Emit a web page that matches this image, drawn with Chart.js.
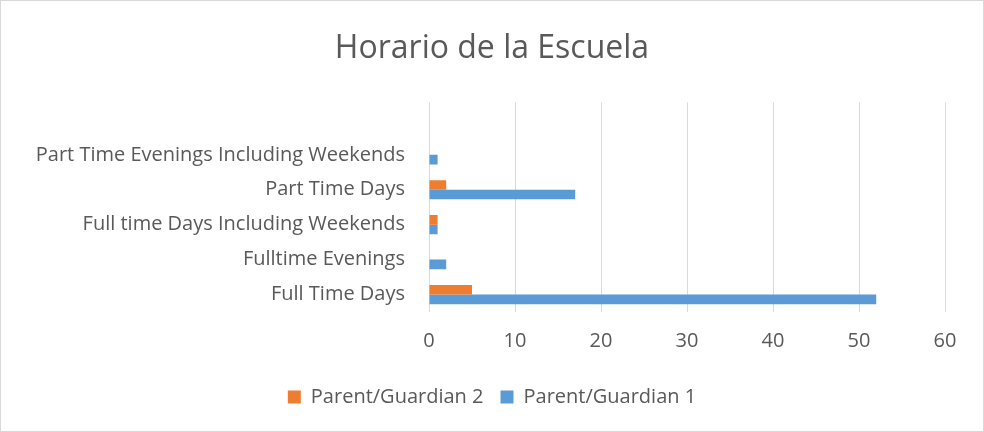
<!DOCTYPE html>
<html>
<head>
<meta charset="utf-8">
<script src="https://cdn.jsdelivr.net/npm/chart.js@4"></script>
<style>
  html, body { margin: 0; padding: 0; background: #fff; }
  #wrap { width: 984px; height: 432px; }
</style>
</head>
<body>
<div id="wrap"><canvas id="scheduleChart" width="984" height="432"></canvas></div>
<script>
// Categories listed top to bottom (first row is blank in the source sheet)
const categories = [
    '',
    'Part Time Evenings Including Weekends',
    'Part Time Days',
    'Full time Days Including Weekends',
    'Fulltime Evenings',
    'Full Time Days'
];
const guardian2 = [null, null, 2, 1, null, 5];
const guardian1 = [null, 1, 17, 1, 2, 52];
const xTicks = [0, 10, 20, 30, 40, 50, 60];

const textColor = '#595959';
const fontFamily = '"Open Sans", Lato, sans-serif';

// thin frame round the whole chart
const framePlugin = {
    id: 'frame',
    afterDraw(chart) {
        const c = chart.ctx;
        c.save();
        c.strokeStyle = '#d9d9d9';
        c.lineWidth = 1;
        c.strokeRect(0.5, 0.5, chart.width - 1, chart.height - 1);
        c.restore();
    }
};

const ctx = document.getElementById('scheduleChart').getContext('2d');
new Chart(ctx, {
    type: 'bar',
    data: {
        labels: categories,
        datasets: [{
            label: 'Parent/Guardian 2',
            data: guardian2,
            backgroundColor: '#ED7D31',
            categoryPercentage: 0.55,
            barPercentage: 1
        }, {
            label: 'Parent/Guardian 1',
            data: guardian1,
            backgroundColor: '#5B9BD5',
            categoryPercentage: 0.55,
            barPercentage: 1
        }]
    },
    options: {
        indexAxis: 'y',
        responsive: false,
        animation: false,
        layout: {
            padding: { left: 0, right: 0, top: 0, bottom: 15 }
        },
        scales: {
            x: {
                min: 0,
                max: 60,
                afterBuildTicks(scale) {
                    scale.ticks = xTicks.map(v => ({ value: v }));
                },
                grid: { color: '#d9d9d9', drawTicks: false },
                border: { display: false },
                ticks: {
                    color: textColor,
                    font: { family: fontFamily, size: 20 },
                    padding: 17
                }
            },
            y: {
                grid: { display: false },
                border: { display: false },
                afterFit(scale) {
                    scale.width = 429;
                },
                ticks: {
                    color: textColor,
                    font: { family: fontFamily, size: 20 },
                    padding: 16,
                    autoSkip: false
                }
            },
            // empty axis that only keeps the right margin of the plot
            spacer: {
                type: 'category',
                position: 'right',
                grid: { display: false },
                border: { display: false },
                ticks: { display: false },
                afterFit(scale) {
                    scale.width = 39;
                }
            }
        },
        plugins: {
            title: {
                display: true,
                text: 'Horario de la Escuela',
                color: textColor,
                font: { family: fontFamily, size: 32, weight: 'normal' },
                padding: { top: 30, bottom: 34 }
            },
            legend: {
                position: 'bottom',
                labels: {
                    color: textColor,
                    font: { family: fontFamily, size: 20 },
                    boxWidth: 13,
                    boxHeight: 13,
                    padding: 17
                }
            },
            tooltip: { enabled: false }
        }
    },
    plugins: [framePlugin]
});
</script>
</body>
</html>
